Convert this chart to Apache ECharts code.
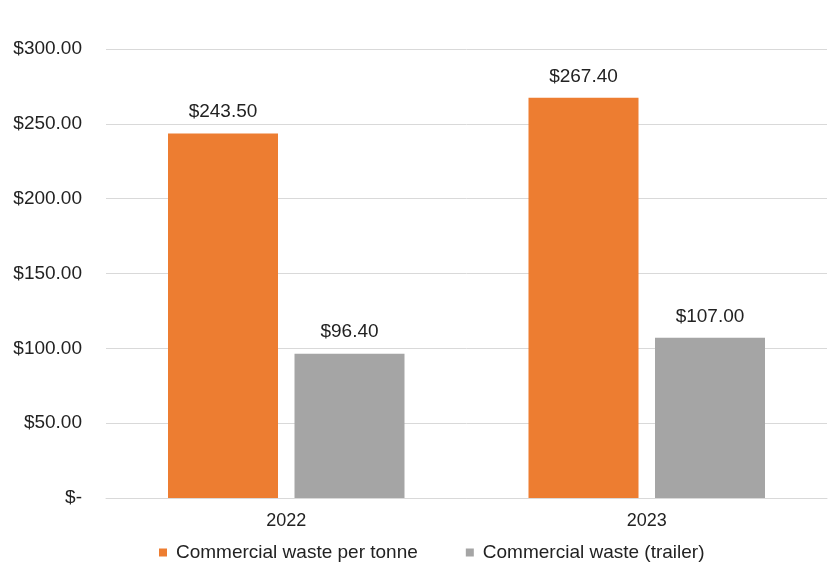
<!DOCTYPE html>
<html>
<head>
<meta charset="utf-8">
<script src="https://cdn.jsdelivr.net/npm/echarts@6/dist/echarts.min.js"></script>
<style>html,body{margin:0;padding:0;background:#fff}#c{width:840px;height:581px}</style>
</head>
<body>
<div id="c"></div>
<script>
const categories = ['2022', '2023'];
const perTonne = [243.5, 267.4];
const trailer = [96.4, 107.0];
const seriesNames = ['Commercial waste per tonne', 'Commercial waste (trailer)'];

function money(v) {
  if (v === 0) return '$-';
  return '$' + v.toFixed(2);
}

const chart = echarts.init(document.getElementById('c'));
chart.setOption({
  animation: false,
  textStyle: { fontFamily: 'Liberation Sans, Arial, sans-serif' },
  grid: { left: 106, right: 13, top: 49, bottom: 83, containLabel: false },
  legend: {
    bottom: 14, left: 154, itemWidth: 8, itemHeight: 8, itemGap: 48,
    icon: 'rect',
    textStyle: { fontSize: 19, color: '#222', padding: [0, 0, 0, 4] },
    data: seriesNames
  },
  xAxis: {
    type: 'category', data: categories,
    axisLine: { lineStyle: { color: '#d9d9d9' } },
    axisTick: { show: false },
    axisLabel: { fontSize: 18, color: '#222', margin: 14 }
  },
  yAxis: {
    type: 'value', min: 0, max: 300, interval: 50,
    axisLine: { show: false }, axisTick: { show: false },
    splitLine: { lineStyle: { color: '#d9d9d9' } },
    axisLabel: { fontSize: 19, color: '#222', margin: 24, formatter: money }
  },
  series: [
    {
      name: seriesNames[0], type: 'bar', data: perTonne, barWidth: 110, barGap: '15%',
      itemStyle: { color: '#ED7D31' },
      label: { show: true, position: 'top', distance: 12, fontSize: 19, color: '#222', formatter: p => money(p.value) }
    },
    {
      name: seriesNames[1], type: 'bar', data: trailer, barWidth: 110,
      itemStyle: { color: '#A5A5A5' },
      label: { show: true, position: 'top', distance: 12, fontSize: 19, color: '#222', formatter: p => money(p.value) }
    }
  ]
});
</script>
</body>
</html>
